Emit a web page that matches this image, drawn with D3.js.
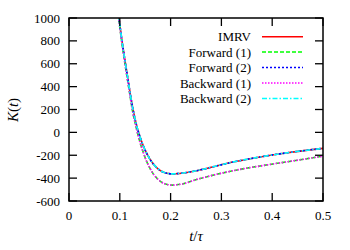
<!DOCTYPE html>
<html><head><meta charset="utf-8">
<script src="https://cdn.jsdelivr.net/npm/d3@7"></script>
<style>body{margin:0;background:#fff}svg{display:block}
text{font-family:"Liberation Serif","DejaVu Serif",Times,serif}</style>
</head><body>
<svg id="c" width="350" height="250"></svg>
<script>
// ---- data ----
const tValues = [0.090,0.095,0.0984,0.104,0.110,0.116,0.121,0.126,0.130,0.134,0.140,0.146,0.152,0.159,0.167,0.175,0.182,0.189,0.196,0.203,0.212,0.225,0.248,0.28,0.32,0.376,0.43,0.5];
const upperK = [1330,1130,1000,810,633,465,325,200,118,45,-42,-115,-175,-232,-282,-318,-340,-353,-360,-363,-361,-355,-338,-305,-262,-215,-178,-140];
const lowerK = [1300,1100,975,785,605,435,295,165,85,10,-90,-172,-245,-310,-370,-410,-435,-450,-458,-461,-458,-449,-416,-378,-338,-294,-257,-208];
const seriesNames = ["IMRV","Forward (1)","Forward (2)","Backward (1)","Backward (2)"];
const seriesValues = [upperK, lowerK, upperK, lowerK, upperK];
const seriesColors = ["#ff0000","#00ff00","#0000ff","#ff00ff","#00ffff"];
const seriesDash = [null,"4,2","2,2","1.5,1.5","5,2,1.5,2"];
const xTicks = [0,0.1,0.2,0.3,0.4,0.5];
const yTicks = [-600,-400,-200,0,200,400,600,800,1000];

// ---- layout ----
const L=69,R=323,T=18,B=201;
const svg=d3.select("#c");
const x=d3.scaleLinear().domain([0,0.5]).range([L,R]);
const y=d3.scaleLinear().domain([-600,1000]).range([B,T]);

svg.append("defs").append("clipPath").attr("id","clip")
  .append("rect").attr("x",L).attr("y",T).attr("width",R-L).attr("height",B-T);

const line=d3.line().x((d,i)=>x(tValues[i])).y(d=>y(d)).curve(d3.curveMonotoneX);
const g=svg.append("g").attr("clip-path","url(#clip)");
seriesValues.forEach((vals,i)=>{
  g.append("path").attr("d",line(vals)).attr("fill","none")
   .attr("stroke",seriesColors[i]).attr("stroke-width",1.6)
   .attr("stroke-dasharray",seriesDash[i]);
});

// ticks (inward, mirrored)
const tk=8;
const ax=svg.append("g").attr("stroke","#000").attr("stroke-width",1.3);
xTicks.forEach(v=>{
  ax.append("line").attr("x1",x(v)).attr("x2",x(v)).attr("y1",B).attr("y2",B-tk);
  ax.append("line").attr("x1",x(v)).attr("x2",x(v)).attr("y1",T).attr("y2",T+tk);
});
yTicks.forEach(v=>{
  ax.append("line").attr("x1",L).attr("x2",L+tk).attr("y1",y(v)).attr("y2",y(v));
  ax.append("line").attr("x1",R).attr("x2",R-tk).attr("y1",y(v)).attr("y2",y(v));
});
svg.append("rect").attr("x",L).attr("y",T).attr("width",R-L).attr("height",B-T)
  .attr("fill","none").attr("stroke","#000").attr("stroke-width",1.5);

// tick labels
xTicks.forEach(v=>{
  svg.append("text").attr("x",x(v)).attr("y",220).attr("text-anchor","middle")
   .attr("font-size",13).text(d3.format("")(v));
});
yTicks.forEach(v=>{
  svg.append("text").attr("x",60).attr("y",y(v)+4.5).attr("text-anchor","end")
   .attr("font-size",13).text(v);
});

// axis titles
const xt=svg.append("text").attr("x",196).attr("y",241).attr("text-anchor","middle")
  .attr("font-size",15);
xt.append("tspan").attr("font-style","italic").text("t");
xt.append("tspan").text("/");
xt.append("tspan").attr("font-style","italic").text("τ");
const yt=svg.append("text").attr("transform","translate(18,110) rotate(-90)")
  .attr("text-anchor","middle").attr("font-size",15);
yt.append("tspan").attr("font-style","italic").text("K");
yt.append("tspan").text("(");
yt.append("tspan").attr("font-style","italic").text("t");
yt.append("tspan").text(")");

// legend
const rowY=[36.7,52,67.5,83,98.5];
seriesNames.forEach((n,i)=>{
  svg.append("text").attr("x",251).attr("y",rowY[i]+4.5).attr("text-anchor","end")
   .attr("font-size",13).text(n);
  svg.append("line").attr("x1",262).attr("x2",303).attr("y1",rowY[i]).attr("y2",rowY[i])
   .attr("stroke",seriesColors[i]).attr("stroke-width",1.6).attr("stroke-dasharray",seriesDash[i]);
});
</script>
</body></html>
